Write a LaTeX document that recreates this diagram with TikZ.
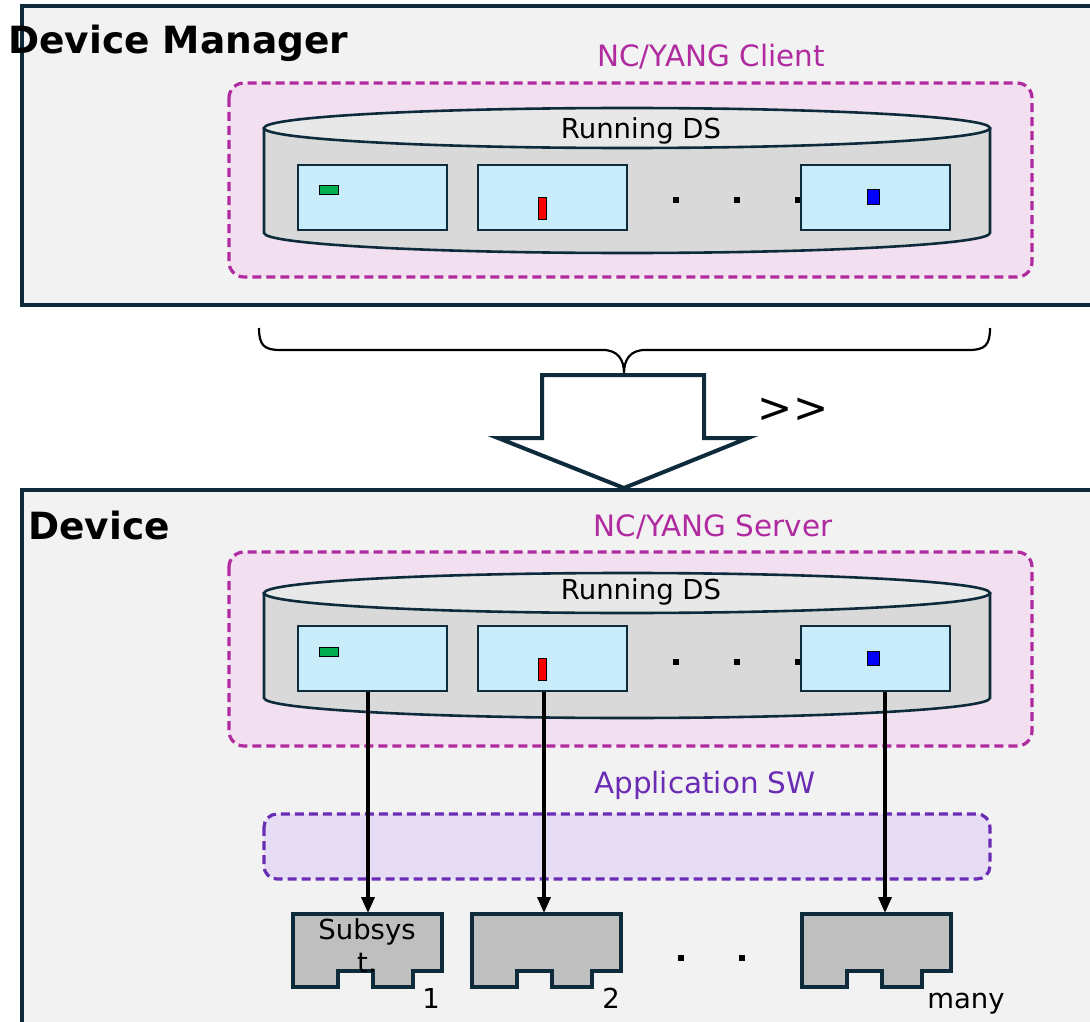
\documentclass[tikz,border=0pt]{standalone}
\usepackage{fontspec}
\setmainfont{DejaVu Sans}
\usetikzlibrary{arrows.meta}

\definecolor{edge}{RGB}{13,43,58}
\definecolor{panelgray}{RGB}{242,242,242}
\definecolor{ncpink}{RGB}{176,42,160}
\definecolor{ncfill}{RGB}{242,224,240}
\definecolor{appviolet}{RGB}{106,44,180}
\definecolor{appfill}{RGB}{230,221,245}
\definecolor{dsside}{RGB}{217,217,217}
\definecolor{dslid}{RGB}{232,232,232}
\definecolor{entryblue}{RGB}{201,236,250}
\definecolor{subgray}{RGB}{191,191,191}
\definecolor{markgreen}{RGB}{0,176,80}

\tikzset{
  panel/.style={draw=edge, line width=4pt, fill=panelgray},
  ncbox/.style={draw=ncpink, fill=ncfill, line width=3.2pt, dash pattern=on 9pt off 5pt, rounded corners=15pt},
  appbox/.style={draw=appviolet, fill=appfill, line width=3.2pt, dash pattern=on 9pt off 5pt, rounded corners=13pt},
  dsbody/.style={draw=edge, line width=2.6pt, fill=dsside},
  dslid/.style={draw=edge, line width=2.6pt, fill=dslid},
  entry/.style={draw=edge, line width=2.6pt, fill=entryblue, minimum width=149pt, minimum height=65pt, inner sep=0pt},
  subsys/.style={draw=edge, line width=4pt, fill=subgray, line join=miter},
  feed/.style={line width=3.5pt, -{Triangle[length=16pt,width=13pt]}},
  title/.style={font=\bfseries\fontsize{37.5}{40}\selectfont, inner sep=0pt},
  nctext/.style={text=ncpink, font=\fontsize{29.4}{34}\selectfont},
  apptext/.style={text=appviolet, font=\fontsize{29.4}{34}\selectfont},
  plain/.style={font=\fontsize{27.5}{33}\selectfont, inner sep=0pt},
}

\begin{document}
\begin{tikzpicture}[x=1pt,y=-1pt]
  \useasboundingbox (0,0) rectangle (1090,1022);
  \clip (0,0) rectangle (1090,1022);
  \fill[white] (0,0) rectangle (1090,1022);

  % device manager with its client datastore
  \draw[panel] (22,6) rectangle (1110,305);
  \node[title, anchor=base west] (mgr) at (8,54) {Device Manager};
  \node[nctext] (client) at (711,57) {NC/YANG Client};
  \draw[ncbox] (229,83) rectangle (1032,277);
  \draw[dsbody] (264,128) -- (264,233) arc (180:360:363pt and 20pt) -- (990,128);
  \draw[dslid] (627,128) ellipse (363pt and 20pt);
  \node[plain] (mds) at (641,131) {Running DS};
  \foreach \x in {676,737,798}
    \fill (\x-3,197) rectangle ++(6,6);
  \foreach \n/\x in {1/372.5,2/552.5,3/875.5}
    \node[entry] (m\n) at (\x,197.5) {};
  \draw[fill=markgreen] (319,185) rectangle (338,194);
  \draw[fill=red] (538,197) rectangle (546,219);
  \draw[fill=blue] (867,189) rectangle (879,204);

  % brace and push arrow
  \draw[line width=2.2pt] (259,328) .. controls (259,345) and (264,350) .. (280,350) -- (603,350)
    .. controls (618,350) and (624,360) .. (624,373)
    .. controls (624,360) and (630,350) .. (645,350) -- (969,350)
    .. controls (985,350) and (990,345) .. (990,328);
  \draw[draw=edge, line width=4pt, fill=white] (542,375) -- (704,375) -- (704,438) -- (748,438)
    -- (624,488) -- (498,438) -- (542,438) -- cycle;
  \node[font=\fontsize{42}{42}\selectfont, inner sep=0pt] (push) at (793,410) {{>}{>}};

  % device with its server datastore
  \draw[panel] (22,490) rectangle (1110,1040);
  \node[title, anchor=base west] (dev) at (28,539) {Device};
  \node[nctext] (server) at (713,527) {NC/YANG Server};
  \draw[ncbox] (229,552) rectangle (1032,746);
  \draw[dsbody] (264,593) -- (264,698) arc (180:360:363pt and 20pt) -- (990,593);
  \draw[dslid] (627,593) ellipse (363pt and 20pt);
  \node[plain] (dds) at (641,592) {Running DS};
  \foreach \x in {676,737,798}
    \fill (\x-3,659) rectangle ++(6,6);
  \foreach \n/\x in {1/372.5,2/552.5,3/875.5}
    \node[entry] (d\n) at (\x,658.5) {};
  \draw[fill=markgreen] (319,647) rectangle (338,656);
  \draw[fill=red] (538,658) rectangle (546,680);
  \draw[fill=blue] (867,651) rectangle (879,665);

  \node[apptext] (app) at (705,785) {Application SW};
  \draw[appbox] (264,814) rectangle (990,879);

  % subsystems
  \foreach \n/\x in {1/293,2/472,3/802}
    \draw[subsys] (\x,914) -- ++(149,0) -- ++(0,57) -- ++(-29,0) -- ++(0,16) -- ++(-40,0)
      -- ++(0,-16) -- ++(-35,0) -- ++(0,16) -- ++(-45,0) -- cycle;
  \foreach \x in {681,742}
    \fill (\x-3,955) rectangle ++(6,6);
  \coordinate (s1) at (368,913);
  \coordinate (s2) at (544,913);
  \coordinate (s3) at (885,913);
  \foreach \n in {1,2,3}
    \draw[feed] (s\n |- d\n.south) -- (s\n);

  \node[plain, align=center] (sub) at (367,946) {Subsys\\t.};
  \node[plain, anchor=base] (n1) at (431,1008) {1};
  \node[plain, anchor=base] (n2) at (611,1008) {2};
  \node[plain, anchor=base] (nmany) at (966,1008) {many};
\end{tikzpicture}
\end{document}
